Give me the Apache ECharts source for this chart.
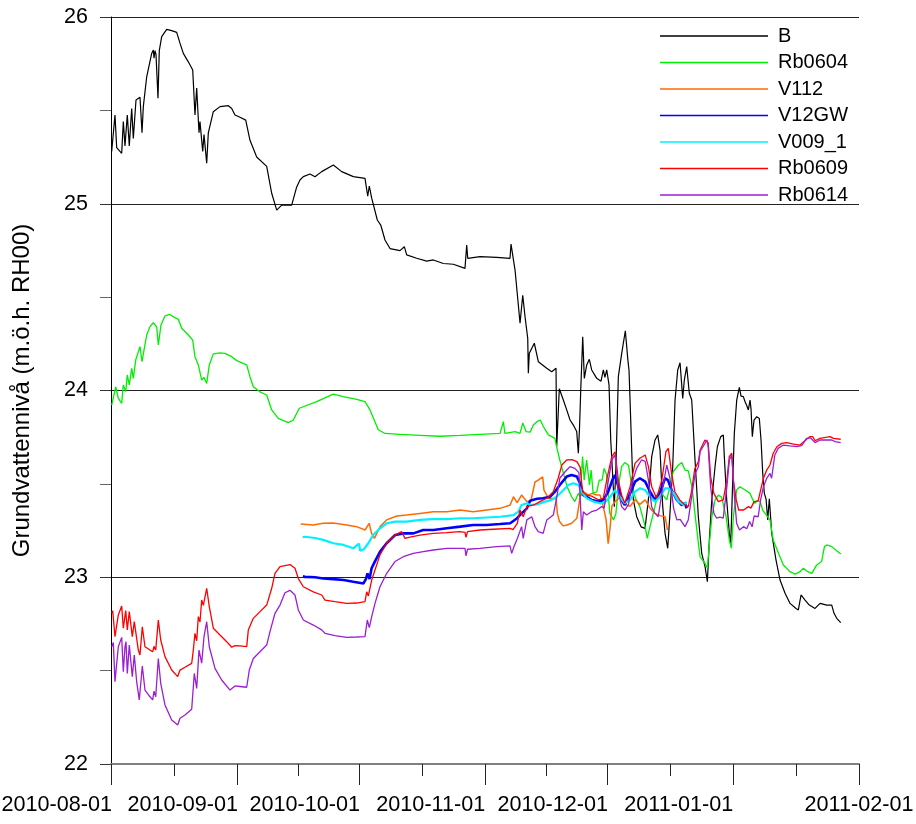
<!DOCTYPE html>
<html>
<head>
<meta charset="utf-8">
<script src="https://cdn.jsdelivr.net/npm/echarts@6/dist/echarts.min.js"></script>
<style>
  html, body { margin: 0; padding: 0; background: #fff; }
  #chart { width: 916px; height: 824px; }
</style>
</head>
<body>
<div id="chart"></div>
<script>
// Groundwater levels, Aug 2010 – Jan 2011.
// Each point is [days after 2010-08-01, level in m.ö.h. RH00].
const startDate = '2010-08-01';
const endDate = '2011-02-01';
const monthTicks = ['2010-08-01', '2010-09-01', '2010-10-01', '2010-11-01', '2010-12-01', '2011-01-01', '2011-02-01'];
const seriesNames = ['B', 'Rb0604', 'V112', 'V12GW', 'V009_1', 'Rb0609', 'Rb0614'];
const seriesColors = ['#000000', '#00ee00', '#ff6a00', '#0000ff', '#00f0ff', '#ff0000', '#9b1fd1'];
const yTicks = [22, 23, 24, 25, 26];

const levelB = [
  [0.17,25.28],[0.98,25.475],[1.40,25.30],[2.63,25.27],[3.03,25.44],[3.44,25.31],[4.01,25.475],[4.50,25.31],
  [5.09,25.51],[5.49,25.35],[6.15,25.556],[7.13,25.57],[7.63,25.38],[7.95,25.52],[8.78,25.68],[10.01,25.805],
  [10.41,25.823],[10.58,25.78],[10.82,25.82],[11.07,25.80],[11.56,25.565],[11.88,25.82],[12.47,25.895],
  [13.70,25.934],[14.93,25.927],[16.16,25.918],[16.56,25.92],[16.97,25.86],[17.79,25.805],[19.02,25.76],
  [20.10,25.716],[20.66,25.475],[21.08,25.62],[21.65,25.38],[21.89,25.44],[22.56,25.28],[22.88,25.37],
  [23.54,25.217],[23.94,25.38],[25.17,25.493],[26.81,25.52],[28.86,25.525],[29.69,25.51],[30.50,25.475],
  [31.73,25.463],[33.14,25.448],[34.19,25.34],[35.84,25.25],[38.30,25.20],[39.53,25.056],[40.76,24.966],
  [41.99,24.993],[44.45,24.993],[45.68,25.09],[46.49,25.127],[47.31,25.145],[48.95,25.159],[50.18,25.145],
  [51.83,25.172],[54.69,25.207],[56.75,25.172],[59.61,25.145],[62.48,25.136],[63.15,25.04],[63.54,25.095],
  [64.13,25.03],[65.51,24.913],[66.35,24.886],[67.40,24.806],[68.63,24.76],[71.09,24.749],[72.15,24.77],
  [72.74,24.726],[75.20,24.708],[77.66,24.693],[79.29,24.699],[81.75,24.68],[84.21,24.676],[87.08,24.654],
  [87.50,24.779],[87.75,24.708],[90.77,24.717],[94.88,24.713],[98.15,24.708],[98.40,24.784],[99.39,24.645],
  [100.62,24.36],[101.28,24.51],[101.85,24.395],[102.51,24.28],[102.66,24.092],[102.90,24.199],[104.13,24.253],
  [105.12,24.154],[107.18,24.119],[108.41,24.10],[109.47,24.119],[109.64,23.699],[110.28,24.009],[111.27,23.949],
  [112.10,23.896],[112.92,23.842],[113.73,23.815],[114.56,23.78],[114.96,23.664],[115.25,23.80],[115.55,24.0],
  [116.04,24.288],[116.43,24.065],[117.02,24.137],[117.66,24.167],[118.25,24.11],[119.48,24.065],[120.54,24.05],
  [121.11,24.11],[121.50,24.07],[121.94,24.11],[122.51,24.03],[122.93,23.735],[123.42,23.539],[123.81,23.378],
  [124.23,23.61],[124.80,24.074],[125.63,24.199],[126.52,24.32],[127.11,24.172],[127.43,24.106],[127.68,23.949],
  [128.09,23.68],[128.49,23.414],[129.32,23.324],[130.38,23.27],[131.37,23.262],[132.18,23.414],[133.01,23.646],
  [133.83,23.735],[134.49,23.762],[135.06,23.68],[135.72,23.378],[136.29,23.235],[136.95,23.155],[137.52,23.35],
  [138.18,23.592],[138.75,23.949],[139.41,24.11],[139.98,24.149],[140.64,23.958],[141.03,24.056],[141.62,24.128],
  [142.26,23.985],[142.85,23.949],[143.66,23.63],[144.48,23.324],[145.31,23.128],[146.13,23.057],[146.70,22.976],
  [147.19,23.2],[147.78,23.414],[148.59,23.592],[149.16,23.699],[149.65,23.70],[149.99,23.753],[150.63,23.762],
  [150.87,23.646],[151.46,23.414],[152.10,23.235],[152.45,23.18],[152.94,23.52],[153.33,23.77],[153.92,23.949],
  [154.56,24.017],[154.98,23.97],[155.55,23.967],[155.97,23.94],[156.38,23.92],[156.78,23.896],[157.20,23.949],
  [157.44,23.90],[157.76,23.753],[158.18,23.842],[158.84,23.86],[159.48,23.85],[159.90,23.735],[160.32,23.556],
  [160.71,23.449],[161.13,23.42],[161.55,23.307],[161.94,23.42],[162.53,23.235],[163.59,23.092],[164.58,22.985],
  [165.81,22.914],[167.04,22.86],[168.51,22.833],[169.08,22.825],[169.74,22.905],[170.73,22.878],[171.78,22.851],
  [173.19,22.833],[174.42,22.86],[176.06,22.851],[177.29,22.851],[177.86,22.807],[178.52,22.78],[179.51,22.757]
];

const levelRb0604 = [
  [0.17,23.922],[1.16,24.02],[1.80,23.958],[2.63,23.931],[3.03,24.03],[3.62,23.994],[4.01,24.083],[4.50,24.03],
  [5.09,24.119],[5.49,24.065],[6.08,24.163],[7.13,24.235],[7.63,24.154],[8.19,24.226],[8.78,24.297],[9.59,24.342],
  [10.41,24.363],[10.82,24.36],[11.24,24.34],[11.64,24.244],[12.30,24.351],[13.28,24.399],[14.34,24.408],
  [15.74,24.39],[16.56,24.381],[17.39,24.333],[19.02,24.297],[20.10,24.27],[20.66,24.181],[21.08,24.19],
  [21.48,24.137],[22.31,24.056],[22.88,24.07],[23.54,24.038],[24.18,24.137],[25.17,24.196],[26.81,24.202],
  [28.04,24.199],[29.69,24.181],[30.92,24.16],[33.38,24.137],[34.19,24.074],[35.01,24.02],[36.65,23.993],
  [38.30,23.976],[39.53,23.896],[41.16,23.851],[43.62,23.828],[44.85,23.842],[46.32,23.905],[50.60,23.94],
  [54.69,23.981],[57.15,23.967],[60.44,23.953],[62.48,23.94],[63.71,23.896],[65.75,23.79],[67.40,23.77],
  [71.09,23.765],[76.0,23.76],[80.9,23.755],[85.9,23.76],[90.8,23.765],[95.7,23.77],[96.5,23.833],[96.9,23.77],
  [99.4,23.78],[100.6,23.77],[101.3,23.826],[102.1,23.78],[103.1,23.777],[103.9,23.815],[104.8,23.833],
  [105.6,23.842],[106.3,23.81],[106.8,23.79],[107.6,23.762],[108.4,23.753],[109.2,23.744],[109.6,23.699],
  [110.4,23.628],[111.3,23.556],[112.2,23.485],[113.3,23.431],[114.1,23.405],[114.96,23.449],[115.4,23.43],
  [116.0,23.646],[116.4,23.52],[117.0,23.628],[117.7,23.494],[118.1,23.574],[118.6,23.449],[119.5,23.458],
  [120.1,23.52],[120.8,23.52],[121.3,23.583],[121.9,23.55],[122.3,23.449],[122.7,23.342],[123.6,23.307],
  [124.2,23.34],[124.8,23.485],[125.6,23.592],[126.4,23.614],[127.3,23.60],[128.1,23.485],[129.2,23.414],
  [130.1,23.378],[131.4,23.271],[131.9,23.208],[132.6,23.271],[133.4,23.342],[134.2,23.414],[135.5,23.449],
  [136.7,23.414],[137.5,23.485],[138.3,23.565],[139.6,23.601],[140.4,23.614],[141.2,23.574],[142.0,23.57],
  [142.9,23.485],[143.7,23.33],[144.5,23.18],[144.9,23.11],[146.1,23.075],[146.7,23.048],[147.2,23.182],
  [147.8,23.324],[148.6,23.414],[149.4,23.44],[150.2,23.43],[150.6,23.423],[151.3,23.324],[152.1,23.2],
  [152.6,23.155],[153.1,23.324],[153.9,23.467],[154.7,23.485],[156.0,23.467],[157.2,23.449],[157.9,23.414],
  [158.4,23.396],[159.0,23.41],[159.7,23.405],[160.3,23.36],[160.9,23.342],[162.1,23.307],[162.9,23.2],
  [164.2,23.128],[165.4,23.066],[167.0,23.03],[168.3,23.017],[169.5,23.03],[170.3,23.048],[171.4,23.03],
  [172.4,23.021],[173.6,23.066],[174.8,23.084],[175.5,23.164],[176.1,23.173],[177.3,23.164],[178.5,23.142],
  [179.5,23.124]
];

const levelV112 = [
  [46.7,23.285],[49.7,23.28],[52.2,23.289],[54.6,23.29],[58.0,23.28],[60.4,23.271],[62.5,23.253],[63.5,23.289],
  [64.1,23.235],[64.8,23.208],[66.2,23.271],[67.8,23.307],[70.3,23.328],[72.7,23.333],[76.0,23.342],[79.3,23.351],
  [82.6,23.351],[85.9,23.36],[89.1,23.351],[92.4,23.36],[95.7,23.369],[98.2,23.387],[99.0,23.431],[99.9,23.40],
  [101.0,23.44],[102.3,23.405],[103.3,23.41],[104.3,23.51],[105.1,23.52],[106.2,23.537],[106.5,23.467],
  [107.6,23.423],[109.5,23.42],[109.8,23.342],[110.3,23.30],[111.2,23.275],[112.2,23.28],[113.3,23.289],
  [114.6,23.316],[115.4,23.431],[116.2,23.458],[117.4,23.44],[118.3,23.449],[119.5,23.44],[120.3,23.44],
  [121.1,23.378],[121.8,23.307],[122.3,23.18],[122.8,23.271],[123.2,23.38],[124.0,23.405],[125.2,23.43],
  [126.4,23.39],[127.7,23.38],[128.9,23.415],[130.1,23.39],[131.4,23.414],[132.6,23.37],[133.8,23.342],
  [135.1,23.33],[136.3,23.324],[136.9,23.253]
];

const levelV12GW = [
  [47.2,23.005],[47.7,23.002],[50.2,23.0],[52.2,22.993],[54.7,22.99],[57.2,22.985],[59.6,22.976],[62.1,22.967],
  [62.7,22.99],[63.1,23.021],[63.6,22.99],[64.1,23.048],[64.9,23.084],[66.2,23.137],[67.8,23.182],[69.9,23.226],
  [71.9,23.235],[74.4,23.235],[76.8,23.253],[79.3,23.253],[82.6,23.262],[85.9,23.271],[89.1,23.28],[92.4,23.28],
  [95.7,23.285],[98.2,23.289],[99.9,23.316],[101.0,23.342],[102.3,23.369],[103.1,23.41],[104.8,23.42],
  [106.3,23.423],[108.0,23.431],[109.2,23.458],[110.4,23.494],[112.1,23.539],[113.3,23.547],[114.6,23.539],
  [115.4,23.503],[116.2,23.44],[117.0,23.431],[118.2,23.414],[119.9,23.405],[121.1,23.414],[122.3,23.458],
  [123.5,23.53],[124.0,23.547],[124.8,23.485],[125.6,23.414],[126.4,23.387],[127.7,23.449],[128.9,23.512],
  [130.1,23.53],[131.4,23.512],[132.6,23.458],[133.8,23.414],[135.1,23.458],[136.3,23.53],[137.0,23.52],
  [137.9,23.467],[139.2,23.414],[140.4,23.387],[141.2,23.396],[141.6,23.369]
];

const levelV009 = [
  [47.2,23.215],[47.7,23.217],[50.2,23.21],[52.2,23.2],[54.7,23.182],[57.2,23.173],[59.6,23.155],[61.0,23.18],
  [61.3,23.142],[62.2,23.15],[63.3,23.182],[64.5,23.226],[66.2,23.262],[67.8,23.289],[69.9,23.298],[72.7,23.298],
  [76.0,23.307],[79.3,23.311],[82.6,23.311],[85.9,23.316],[89.1,23.316],[92.4,23.32],[95.7,23.324],[99.0,23.333],
  [100.2,23.351],[101.0,23.387],[102.3,23.396],[103.1,23.387],[104.8,23.39],[106.8,23.405],[108.4,23.414],
  [109.6,23.431],[110.9,23.458],[112.5,23.494],[113.7,23.503],[115.0,23.494],[115.8,23.458],[117.0,23.423],
  [118.7,23.405],[120.3,23.396],[121.5,23.40],[122.8,23.431],[124.0,23.467],[125.2,23.431],[126.4,23.396],
  [127.7,23.414],[128.9,23.458],[130.1,23.476],[131.4,23.467],[132.6,23.431],[133.8,23.405],[135.1,23.431],
  [136.3,23.476],[137.1,23.476],[138.4,23.449],[139.6,23.405],[140.9,23.387],[141.6,23.405]
];

const levelRb0609 = [
  [0.17,22.807],[0.42,22.82],[0.98,22.682],[1.80,22.798],[2.63,22.846],[3.03,22.727],[3.62,22.821],[4.01,22.718],
  [4.50,22.816],[5.24,22.682],[5.73,22.762],[6.72,22.61],[7.13,22.584],[7.70,22.735],[8.36,22.628],[9.59,22.61],
  [10.26,22.601],[10.58,22.63],[11.00,22.61],[11.64,22.771],[12.23,22.664],[13.28,22.575],[14.93,22.503],
  [16.41,22.468],[16.97,22.503],[18.20,22.518],[19.85,22.539],[20.25,22.61],[20.66,22.70],[21.08,22.66],
  [21.48,22.789],[21.89,22.76],[22.31,22.878],[22.71,22.85],[23.54,22.941],[24.18,22.843],[25.17,22.727],
  [26.81,22.691],[28.46,22.655],[29.69,22.625],[30.50,22.634],[31.73,22.632],[33.38,22.628],[33.78,22.718],
  [35.01,22.78],[36.65,22.816],[38.30,22.851],[39.53,22.941],[40.34,23.021],[41.57,23.057],[44.03,23.068],
  [45.26,23.048],[46.08,22.993],[47.31,22.949],[49.77,22.922],[51.83,22.905],[52.64,22.878],[55.10,22.869],
  [57.98,22.86],[60.44,22.862],[62.48,22.869],[62.90,22.922],[63.30,22.90],[64.13,22.985],[64.94,23.039],
  [66.17,23.12],[67.82,23.182],[69.86,23.226],[71.51,23.244],[72.32,23.208],[73.55,23.215],[76.01,23.226],
  [79.29,23.235],[82.58,23.239],[85.85,23.244],[87.08,23.24],[87.33,23.214],[87.70,23.244],[90.77,23.253],
  [94.05,23.257],[98.15,23.262],[98.9,23.255],[99.95,23.289],[100.6,23.36],[101.0,23.342],[101.4,23.324],
  [102.3,23.378],[104.0,23.387],[105.5,23.405],[107.2,23.423],[108.8,23.458],[110.0,23.53],[110.9,23.601],
  [112.1,23.628],[113.4,23.63],[114.6,23.619],[115.4,23.59],[116.0,23.458],[117.0,23.44],[118.2,23.435],
  [119.9,23.414],[121.1,23.423],[122.1,23.539],[123.2,23.646],[124.0,23.672],[124.8,23.52],[125.6,23.44],
  [126.4,23.396],[127.7,23.485],[128.9,23.61],[130.1,23.637],[131.4,23.655],[132.2,23.592],[133.0,23.485],
  [134.2,23.423],[135.5,23.52],[136.5,23.672],[137.1,23.69],[137.9,23.556],[138.7,23.458],[139.9,23.414],
  [141.2,23.387],[142.0,23.378],[142.4,23.378],[142.8,23.458],[143.6,23.58],[144.5,23.619],[144.9,23.68],
  [146.1,23.735],[146.5,23.744],[146.9,23.72],[147.5,23.539],[148.3,23.449],[149.4,23.405],[150.6,23.414],
  [151.5,23.52],[152.1,23.646],[152.7,23.664],[153.1,23.52],[153.8,23.414],[154.4,23.36],[155.6,23.36],
  [156.8,23.378],[157.4,23.37],[158.2,23.405],[159.2,23.409],[159.8,23.467],[160.5,23.53],[161.3,23.574],
  [162.1,23.601],[162.9,23.664],[163.8,23.699],[165.0,23.717],[166.2,23.721],[167.9,23.713],[169.5,23.708],
  [170.7,23.731],[171.9,23.753],[172.6,23.753],[173.2,23.731],[174.4,23.744],[176.1,23.75],[176.9,23.753],
  [177.7,23.744],[179.5,23.739]
];

const levelRb0614 = [
  [0.17,22.628],[0.57,22.65],[0.98,22.441],[1.80,22.628],[2.63,22.678],[3.03,22.494],[3.44,22.628],[3.69,22.655],
  [4.01,22.485],[4.50,22.637],[5.24,22.468],[5.73,22.584],[6.32,22.44],[6.96,22.343],[7.70,22.525],[8.36,22.396],
  [9.59,22.36],[10.26,22.343],[10.58,22.39],[11.00,22.36],[11.64,22.565],[12.23,22.432],[13.28,22.316],
  [14.93,22.236],[16.41,22.209],[16.97,22.245],[18.20,22.262],[19.85,22.293],[20.49,22.485],[21.08,22.405],
  [21.65,22.61],[22.31,22.54],[22.88,22.682],[23.54,22.762],[24.18,22.628],[25.58,22.512],[27.23,22.45],
  [29.27,22.396],[30.50,22.418],[31.73,22.415],[33.38,22.411],[34.02,22.503],[35.01,22.565],[36.65,22.601],
  [38.30,22.637],[39.11,22.709],[40.34,22.807],[41.57,22.851],[42.80,22.917],[44.03,22.93],[45.26,22.905],
  [46.08,22.825],[47.31,22.771],[49.77,22.744],[51.83,22.718],[52.64,22.70],[55.10,22.687],[57.98,22.678],
  [60.44,22.68],[62.48,22.682],[63.05,22.771],[63.54,22.73],[64.13,22.789],[64.94,22.86],[66.17,22.949],
  [67.82,23.021],[69.86,23.084],[71.90,23.11],[72.32,23.10],[74.36,23.128],[76.82,23.137],[79.29,23.146],
  [82.58,23.155],[85.85,23.155],[87.08,23.155],[87.33,23.114],[87.70,23.15],[90.77,23.155],[94.88,23.164],
  [98.15,23.168],[98.57,23.128],[99.14,23.165],[99.95,23.208],[101.0,23.271],[101.4,23.208],[102.3,23.307],
  [103.5,23.324],[104.3,23.271],[105.1,23.244],[106.3,23.235],[107.2,23.307],[108.8,23.333],[109.6,23.423],
  [110.4,23.53],[111.7,23.565],[112.9,23.592],[114.1,23.583],[115.1,23.56],[115.8,23.253],[116.2,23.351],
  [117.0,23.333],[118.2,23.351],[119.5,23.36],[120.7,23.378],[121.3,23.37],[122.1,23.485],[123.2,23.628],
  [124.0,23.655],[124.8,23.458],[125.6,23.378],[126.4,23.36],[127.3,23.39],[128.1,23.503],[129.3,23.583],
  [130.5,23.628],[131.4,23.62],[132.2,23.52],[133.0,23.378],[133.8,23.342],[134.6,23.324],[135.5,23.449],
  [136.7,23.601],[137.5,23.53],[138.4,23.369],[139.2,23.307],[140.0,23.31],[141.2,23.271],[142.0,23.307],
  [142.4,23.307],[143.2,23.485],[143.7,23.556],[144.5,23.592],[144.9,23.672],[146.6,23.735],[146.9,23.70],
  [147.5,23.485],[148.3,23.342],[149.0,23.316],[149.8,23.322],[150.6,23.316],[151.5,23.485],[152.1,23.628],
  [152.7,23.655],[153.3,23.449],[153.9,23.289],[154.6,23.253],[155.6,23.271],[156.4,23.26],[157.1,23.298],
  [157.7,23.27],[158.2,23.328],[159.2,23.324],[159.8,23.414],[160.5,23.485],[161.3,23.53],[162.1,23.556],
  [162.5,23.53],[163.3,23.655],[164.1,23.69],[165.4,23.708],[167.0,23.703],[168.7,23.699],[169.9,23.705],
  [171.1,23.744],[172.1,23.746],[173.2,23.721],[174.4,23.735],[176.1,23.735],[177.3,23.735],[178.1,23.726],
  [179.5,23.721]
];

const seriesLevels = [levelB, levelRb0604, levelV112, levelV12GW, levelV009, levelRb0609, levelRb0614];
const seriesWidths = [1.2, 1.3, 1.5, 2.6, 2.2, 1.3, 1.3];

const DAY = 86400000;
const parseDay = s => { const p = s.split('-').map(Number); return Date.UTC(p[0], p[1] - 1, p[2]); };
const T0 = parseDay(startDate);
const T1 = parseDay(endDate);
const majorTicks = monthTicks.map(parseDay);
const minorTicks = majorTicks.slice(1).map((t, i) => (t + majorTicks[i]) / 2);

const FONT = 'Arial, "Liberation Sans", Helvetica, sans-serif';
const LABEL_SIZE = 21.6;

// Width of a date label, used to right-align all but the last month label on its tick.
const measureCtx = document.createElement('canvas').getContext('2d');
measureCtx.font = LABEL_SIZE + 'px ' + FONT;
const labelWidth = measureCtx.measureText(monthTicks[0]).width;

const pad = n => (n < 10 ? '0' : '') + n;
const fmtDate = v => { const d = new Date(v); return d.getUTCFullYear() + '-' + pad(d.getUTCMonth() + 1) + '-' + pad(d.getUTCDate()); };
const lastTick = majorTicks[majorTicks.length - 1];

const chart = echarts.init(document.getElementById('chart'), null, { renderer: 'canvas' });

chart.setOption({
  animation: false,
  backgroundColor: '#ffffff',
  grid: { left: 111, right: 57, top: 17, bottom: 60, containLabel: false, outerBoundsMode: 'none' },
  legend: {
    data: seriesNames,
    orient: 'vertical',
    left: 660,
    top: 26,
    padding: 0,
    icon: 'rect',
    itemWidth: 108,
    itemHeight: 1.5,
    itemGap: 6.5,
    textStyle: { fontFamily: FONT, fontSize: 20, color: '#000', lineHeight: 20, padding: [0, 0, 0, 5] },
    selectedMode: false
  },
  xAxis: [
    {
      type: 'value',
      min: T0,
      max: T1,
      z: 5,
      axisLine: { show: true, lineStyle: { color: '#808080', width: 2 } },
      axisTick: { show: true, length: 21, customValues: majorTicks, lineStyle: { color: '#222', width: 1 } },
      axisLabel: {
        show: true,
        customValues: majorTicks,
        margin: 30,
        align: 'center',
        color: '#000',
        fontFamily: FONT,
        fontSize: LABEL_SIZE,
        formatter: (v) => {
          const s = fmtDate(v);
          return Math.abs(v - lastTick) < 1000 ? '{c|' + s + '}' : '{r|' + s + '}';
        },
        rich: {
          r: { fontFamily: FONT, fontSize: LABEL_SIZE, color: '#000', padding: [0, labelWidth - 2, 0, 0] },
          c: { fontFamily: FONT, fontSize: LABEL_SIZE, color: '#000' }
        }
      },
      splitLine: { show: false }
    },
    {
      type: 'value',
      min: T0,
      max: T1,
      position: 'bottom',
      z: 5,
      axisLine: { show: false },
      axisTick: { show: true, length: 12, customValues: minorTicks, lineStyle: { color: '#222', width: 1 } },
      axisLabel: { show: false },
      splitLine: { show: false }
    }
  ],
  yAxis: {
    type: 'value',
    min: yTicks[0],
    max: yTicks[yTicks.length - 1],
    interval: 1,
    name: 'Grundvattennivå (m.ö.h. RH00)',
    nameLocation: 'middle',
    nameGap: 77,
    nameTextStyle: { fontFamily: FONT, fontSize: 24, color: '#000' },
    axisLine: { show: true, lineStyle: { color: '#000', width: 1 } },
    axisTick: { show: true, length: 11, lineStyle: { color: '#333', width: 1 } },
    minorTick: { show: true, splitNumber: 2, length: 11, lineStyle: { color: '#666', width: 1 } },
    axisLabel: { margin: 23, color: '#000', fontFamily: FONT, fontSize: 21.5 },
    splitLine: { show: true, lineStyle: { color: '#222', width: 1 } }
  },
  series: seriesNames.map((name, i) => ({
    name,
    type: 'line',
    xAxisIndex: 0,
    showSymbol: false,
    symbol: 'none',
    z: 2 + i * 0.01,
    color: seriesColors[i],
    lineStyle: { color: seriesColors[i], width: seriesWidths[i] },
    emphasis: { disabled: true },
    data: seriesLevels[i].map(p => [T0 + p[0] * DAY, p[1]])
  }))
});
</script>
</body>
</html>
